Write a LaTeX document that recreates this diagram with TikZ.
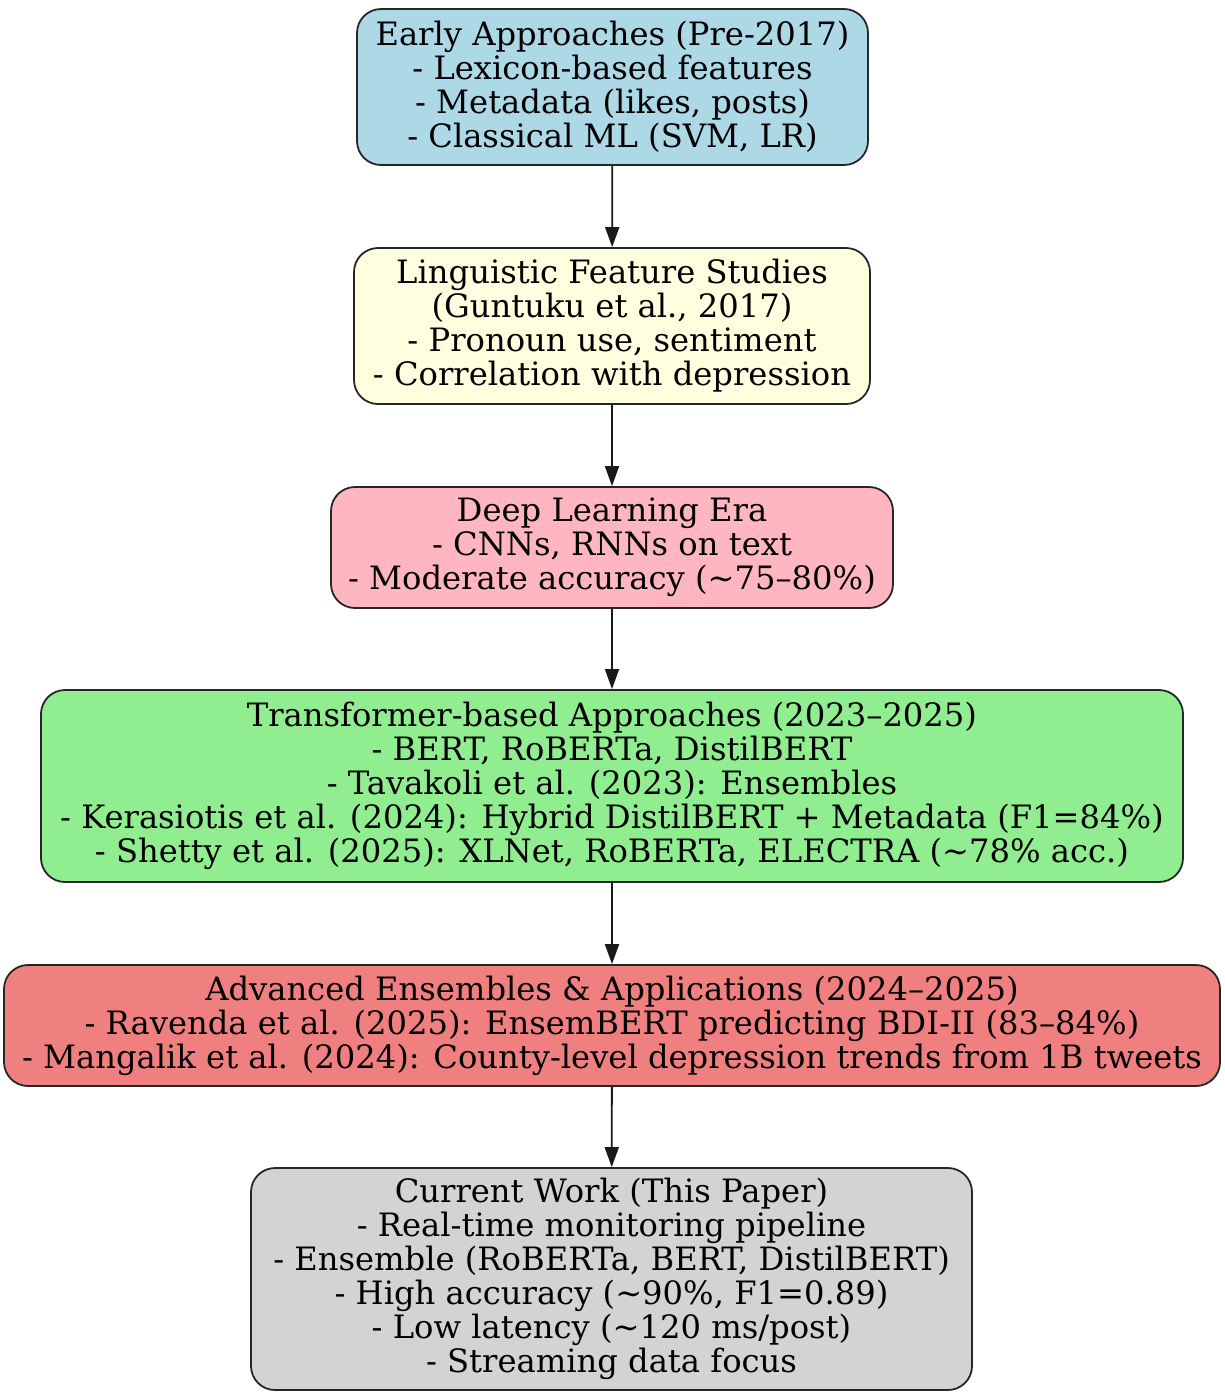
\documentclass[tikz,border=0pt]{standalone}
\usepackage{fontspec}
\setmainfont{DejaVu Serif}
\usetikzlibrary{arrows.meta}
\definecolor{cblue}{HTML}{ADD8E6}
\definecolor{cyellow}{HTML}{FFFFE0}
\definecolor{cpink}{HTML}{FFB6C1}
\definecolor{cgreen}{HTML}{90EE90}
\definecolor{ccoral}{HTML}{F08080}
\definecolor{cgray}{HTML}{D3D3D3}
\tikzset{
  stagebox/.style={draw=black!85, line width=0.9pt, rounded corners=12pt, align=center,
    inner sep=0pt, font=\fontsize{16.1}{17}\selectfont},
  flowarrow/.style={draw=black!90, line width=0.9pt, -{Triangle[length=10pt,width=7pt]}}
}
\begin{document}
\begin{tikzpicture}[x=0.5pt, y=-0.5pt]
\useasboundingbox (0,0) rectangle (1225,1393);
\node[stagebox, fill=cblue, minimum width=255.5pt, minimum height=78pt] (n1) at (612.5,87)
  {Early Approaches (Pre-2017)\\- Lexicon-based features\\- Metadata (likes, posts)\\- Classical ML (SVM, LR)};
\node[stagebox, fill=cyellow, minimum width=258pt, minimum height=78pt] (n2) at (612,326)
  {Linguistic Feature Studies\\(Guntuku et al., 2017)\\- Pronoun use, sentiment\\- Correlation with depression};
\node[stagebox, fill=cpink, minimum width=281pt, minimum height=60.5pt] (n3) at (612,547.5)
  {Deep Learning Era\\- CNNs, RNNs on text\\- Moderate accuracy (\textasciitilde75–80\%)};
\node[stagebox, fill=cgreen, minimum width=571pt, minimum height=96pt] (n4) at (612,786)
  {Transformer-based Approaches (2023–2025)\\- BERT, RoBERTa, DistilBERT\\- Tavakoli et al. (2023): Ensembles\\- Kerasiotis et al. (2024): Hybrid DistilBERT + Metadata (F1=84\%)\\- Shetty et al. (2025): XLNet, RoBERTa, ELECTRA (\textasciitilde78\% acc.)};
\node[stagebox, fill=ccoral, minimum width=608pt, minimum height=60.5pt] (n5) at (612,1025.5)
  {Advanced Ensembles \& Applications (2024–2025)\\- Ravenda et al. (2025): EnsemBERT predicting BDI-II (83–84\%)\\- Mangalik et al. (2024): County-level depression trends from 1B tweets};
\node[stagebox, fill=cgray, minimum width=360.5pt, minimum height=111pt] (n6) at (611.5,1279)
  {Current Work (This Paper)\\- Real-time monitoring pipeline\\- Ensemble (RoBERTa, BERT, DistilBERT)\\- High accuracy (\textasciitilde90\%, F1=0.89)\\- Low latency (\textasciitilde120 ms/post)\\- Streaming data focus};
\draw[flowarrow] (n1) -- (n2);
\draw[flowarrow] (n2) -- (n3);
\draw[flowarrow] (n3) -- (n4);
\draw[flowarrow] (n4) -- (n5);
\draw[flowarrow] (n5) -- (n6);
\end{tikzpicture}
\end{document}
